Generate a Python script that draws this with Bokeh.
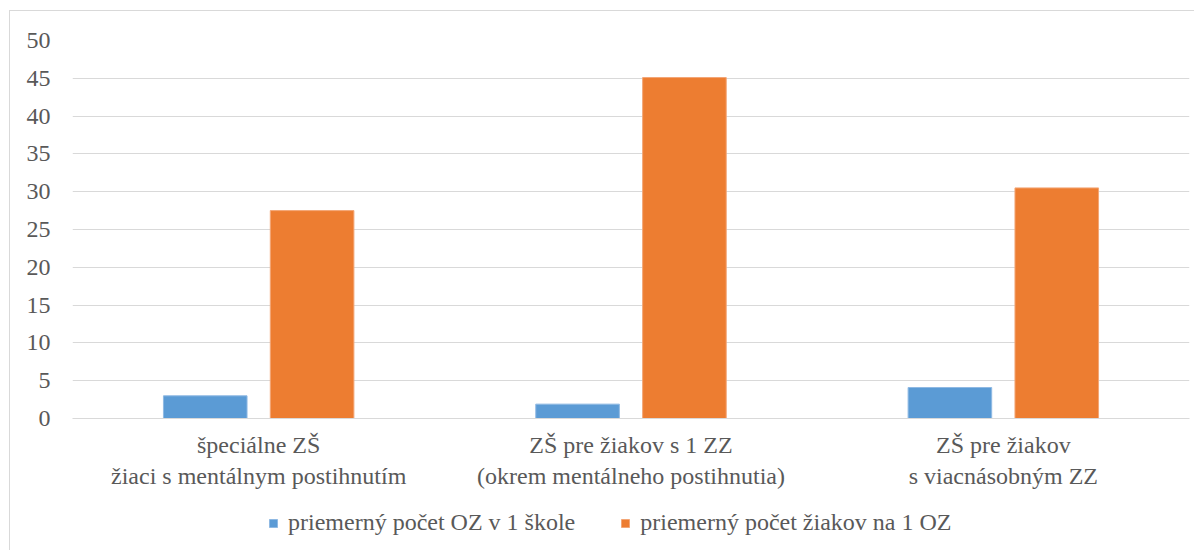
from bokeh.plotting import figure
from bokeh.models import ColumnDataSource, Range1d, Legend, LegendItem, FixedTicker, Spacer
from bokeh.layouts import column, row
from bokeh.transform import dodge
from bokeh.embed import file_html
from bokeh.resources import INLINE

categories = ["špeciálne ZŠ\nžiaci s mentálnym postihnutím",
              "ZŠ pre žiakov s 1 ZZ\n(okrem mentálneho postihnutia)",
              "ZŠ pre žiakov\ns viacnásobným ZZ"]
series_names = ["priemerný počet OZ v 1 škole", "priemerný počet žiakov na 1 OZ"]
oz_per_school = [3.0, 1.9, 4.1]
pupils_per_oz = [27.5, 45.1, 30.5]
y_ticks = [0, 5, 10, 15, 20, 25, 30, 35, 40, 45, 50]
colors = ["#5B9BD5", "#ED7D31"]
edge_colors = ["#8fb9e3", "#f3a676"]

src = ColumnDataSource(data=dict(cat=categories, a=oz_per_school, b=pupils_per_oz))

FONT = "'Liberation Serif', 'Times New Roman', serif"
FSIZE = "24px"
GREY = "#595959"
BORDER = "1px solid #d9d9d9"


def add_bars(fig):
    r1 = fig.vbar(x=dodge("cat", -0.1435, range=fig.x_range), top="a", width=0.2245, source=src,
                  fill_color=colors[0], line_color=edge_colors[0], line_width=1)
    r2 = fig.vbar(x=dodge("cat", 0.1435, range=fig.x_range), top="b", width=0.2245, source=src,
                  fill_color=colors[1], line_color=edge_colors[1], line_width=1)
    return [r1, r2]


p = figure(x_range=categories, y_range=Range1d(0, 50), width=1185, height=489,
           output_backend="svg", toolbar_location=None,
           min_border_left=62, min_border_right=6, min_border_top=29, min_border_bottom=82)
p.x_range.range_padding = 0
p.outline_line_color = None
p.styles = {"border-left": BORDER, "border-top": BORDER}
add_bars(p)

p.xgrid.grid_line_color = None
p.ygrid.grid_line_color = "#d9d9d9"
p.ygrid.grid_line_width = 1
p.yaxis.ticker = FixedTicker(ticks=y_ticks)

for ax in (p.xaxis, p.yaxis):
    ax.major_tick_line_color = None
    ax.minor_tick_line_color = None
    ax.major_tick_out = 0
    ax.major_tick_in = 0
    ax.major_label_text_font = FONT
    ax.major_label_text_font_size = FSIZE
    ax.major_label_text_color = GREY
p.yaxis.axis_line_color = None
p.yaxis.major_label_standoff = 22
p.xaxis.axis_line_color = "#d9d9d9"
p.xaxis.major_label_standoff = 13

# legend strip below the chart (bars drawn out of view, only the legend shows)
lg = figure(width=1185, height=51, x_range=p.x_range, y_range=Range1d(100, 101),
            x_axis_type=None, y_axis_type=None, output_backend="svg",
            toolbar_location=None, min_border=0)
lg.outline_line_color = None
lg.grid.grid_line_color = None
lg.styles = {"border-left": BORDER}
rs = add_bars(lg)

legend = Legend(items=[LegendItem(label=n, renderers=[r]) for n, r in zip(series_names, rs)],
                orientation="horizontal", location=(258, 14),
                border_line_color=None, background_fill_alpha=0,
                padding=0, margin=0, spacing=45,
                glyph_width=10, glyph_height=10, label_standoff=10,
                label_text_font=FONT, label_text_font_size=FSIZE,
                label_text_color=GREY)
lg.add_layout(legend, "center")

layout = column(Spacer(height=10, width=1194),
                row(Spacer(width=9, height=489), p),
                row(Spacer(width=9, height=51), lg), spacing=0)
open("out.html", "w").write(file_html(layout, INLINE))
